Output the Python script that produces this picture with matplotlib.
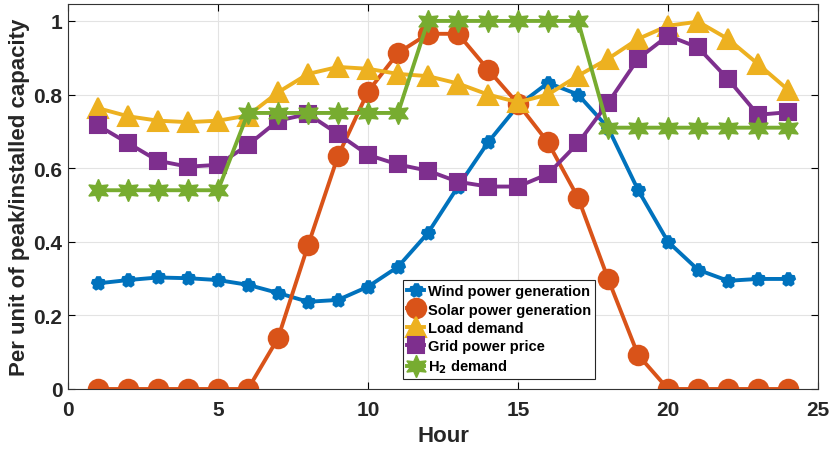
import numpy as np
import matplotlib.pyplot as plt

HOURS = np.arange(1, 25)

WIND = [0.287, 0.296, 0.303, 0.301, 0.296, 0.283, 0.261, 0.237, 0.242, 0.278,
        0.332, 0.424, 0.550, 0.670, 0.770, 0.832, 0.800, 0.710, 0.541, 0.400,
        0.324, 0.294, 0.299, 0.299]
SOLAR = [0, 0, 0, 0, 0, 0, 0.138, 0.390, 0.633, 0.808, 0.913, 0.965, 0.965,
         0.868, 0.775, 0.670, 0.520, 0.300, 0.093, 0, 0, 0, 0, 0]
LOAD = [0.763, 0.741, 0.729, 0.725, 0.729, 0.743, 0.806, 0.856, 0.875, 0.870,
        0.856, 0.850, 0.830, 0.800, 0.779, 0.800, 0.851, 0.897, 0.951, 0.987,
        0.998, 0.951, 0.883, 0.813]
PRICE = [0.716, 0.668, 0.620, 0.604, 0.609, 0.663, 0.729, 0.747, 0.693, 0.636,
         0.610, 0.593, 0.563, 0.550, 0.550, 0.584, 0.668, 0.777, 0.897, 0.960,
         0.928, 0.842, 0.745, 0.752]
H2 = [0.54] * 5 + [0.75] * 6 + [1.0] * 6 + [0.71] * 7

LABELS = ['Wind power generation', 'Solar power generation', 'Load demand',
          'Grid power price', 'H$_2$ demand']
COLORS = ['#0072BD', '#D95319', '#EDB120', '#7E2F8E', '#77AC30']
MARKERS = [(5, 1, 0), 'o', '^', 's', (6, 1, 0)]
SIZES = [9, 14, 15, 11, 16]
EDGE_W = [3.5, 1.5, 1.5, 1.5, 1.0]

plt.rcParams['font.family'] = ['Liberation Sans', 'DejaVu Sans']
plt.rcParams['font.weight'] = 'bold'
plt.rcParams['mathtext.default'] = 'bf'


def main():
    fig = plt.figure(figsize=(8.31, 4.52), dpi=100)
    ax = fig.add_axes([68 / 831, 62 / 452, 750 / 831, 385 / 452])

    for y, lab, c, m, s, ew in zip([WIND, SOLAR, LOAD, PRICE, H2], LABELS,
                                   COLORS, MARKERS, SIZES, EDGE_W):
        ax.plot(HOURS, y, '-', color=c, lw=2.8, marker=m, ms=s,
                mfc=c, mec=c, mew=ew, label=lab)

    ax.set_xlim(0, 25)
    ax.set_ylim(0, 1.046)
    ax.set_xticks(np.arange(0, 26, 5))
    ax.set_yticks([0, 0.2, 0.4, 0.6, 0.8, 1.0])
    ax.set_yticklabels(['0', '0.2', '0.4', '0.6', '0.8', '1'])
    ax.tick_params(direction='in', labelsize=15, length=5, width=0.8,
                   top=True, right=True, labelcolor='#262626')
    ax.tick_params(axis='x', pad=8)
    ax.tick_params(axis='y', pad=4)
    for lbl in ax.get_xticklabels() + ax.get_yticklabels():
        lbl.set_fontweight('bold')
    ax.grid(True, color='#e3e3e3', lw=0.8)
    ax.set_axisbelow(True)
    for sp in ax.spines.values():
        sp.set_color('#333333')
        sp.set_linewidth(0.8)

    ax.set_xlabel('Hour', fontsize=16, fontweight='bold', color='#262626')
    ax.xaxis.set_label_coords(0.5, -0.122)
    ax.xaxis.label.set_va('center')
    ax.set_ylabel('Per unit of peak/installed capacity', fontsize=16,
                  fontweight='bold', color='#262626')
    ax.yaxis.set_label_coords(-0.064, 0.5)
    ax.yaxis.label.set_va('center')

    leg = ax.legend(loc='lower left', bbox_to_anchor=(0.447, 0.026),
                    fontsize=10.5, handlelength=1.2, handletextpad=0.25,
                    borderpad=0.25, labelspacing=0.3, borderaxespad=0,
                    fancybox=False, framealpha=1, edgecolor='#262626')
    leg.get_frame().set_linewidth(0.8)
    for t in leg.get_texts():
        t.set_fontweight('bold')

    fig.savefig('out.png', dpi=100)
    plt.close(fig)


if __name__ == '__main__':
    main()
